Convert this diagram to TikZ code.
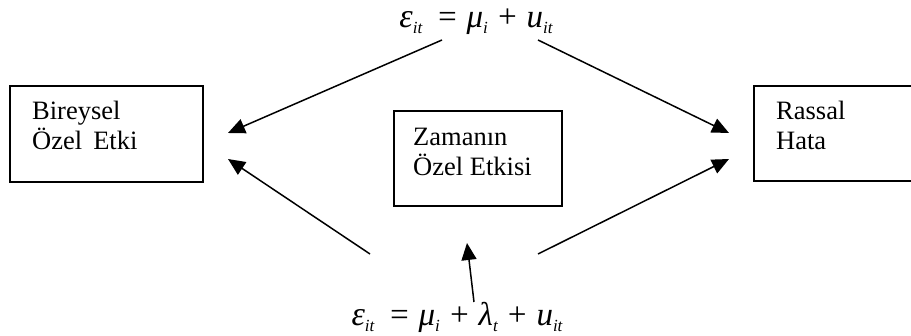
\documentclass[tikz,border=0pt]{standalone}
\usepackage{fontspec}
\setmainfont{Liberation Serif}
\usetikzlibrary{arrows.meta}
\newcommand{\isub}[1]{\raisebox{-6pt}{\fontsize{17}{17}\selectfont\itshape #1}}
\newcommand{\frmsize}{\fontsize{33}{34}\selectfont\itshape}
\newcommand{\eps}{{\fontsize{34}{34}\selectfont ε}}
\newcommand{\lblsize}{\fontsize{26.5}{30}\selectfont}
\begin{document}
\begin{tikzpicture}[x=1pt,y=-1pt,
  box/.style={draw,line width=1.5pt,inner sep=0pt},
  lbl/.style={anchor=base west,inner sep=0pt},
  frm/.style={anchor=base,inner sep=0pt},
  arr/.style={line width=1.5pt,-{Triangle[length=17pt,width=15pt]}}]
\clip (0,0) rectangle (911,336);
% boxes
\node[box,minimum width=193,minimum height=96] (lbox) at (106.5,134) {};
\node[box,minimum width=168,minimum height=95] (mbox) at (478,158.5) {};
\node[box,minimum width=170,minimum height=95,anchor=west] (rbox) at (753,133.5) {};
% texts
\node[lbl] (ltxta) at (32,120) {\lblsize Bireysel};
\node[lbl] (ltxtb) at (32,150) {\lblsize Özel\, Etki};
\node[lbl] (mtxta) at (413,146) {\lblsize Zamanın};
\node[lbl] (mtxtb) at (413,176) {\lblsize Özel Etkisi};
\node[lbl] (rtxta) at (776,120) {\lblsize Rassal};
\node[lbl] (rtxtb) at (776,150) {\lblsize Hata};
% formulas
\node[frm] (ftop) at (476,28) {\frmsize \eps\isub{it}\, = μ\isub{i} + u\isub{it}};
\node[frm] (fbot) at (457,326) {\frmsize \eps\isub{it}\, = μ\isub{i} + λ\isub{t} + u\isub{it}};
% arrow end points
\coordinate (a1s) at (442,40);  \coordinate (a1e) at (228,133);
\coordinate (a2s) at (538,40);  \coordinate (a2e) at (729,133);
\coordinate (a3s) at (370,254); \coordinate (a3e) at (228,159);
\coordinate (a4s) at (538,254); \coordinate (a4e) at (729,159);
\coordinate (a5s) at (474,302); \coordinate (a5e) at (467,243);
\draw[arr] (a1s) -- (a1e);
\draw[arr] (a2s) -- (a2e);
\draw[arr] (a3s) -- (a3e);
\draw[arr] (a4s) -- (a4e);
\draw[arr] (a5s) -- (a5e);
\end{tikzpicture}
\end{document}
